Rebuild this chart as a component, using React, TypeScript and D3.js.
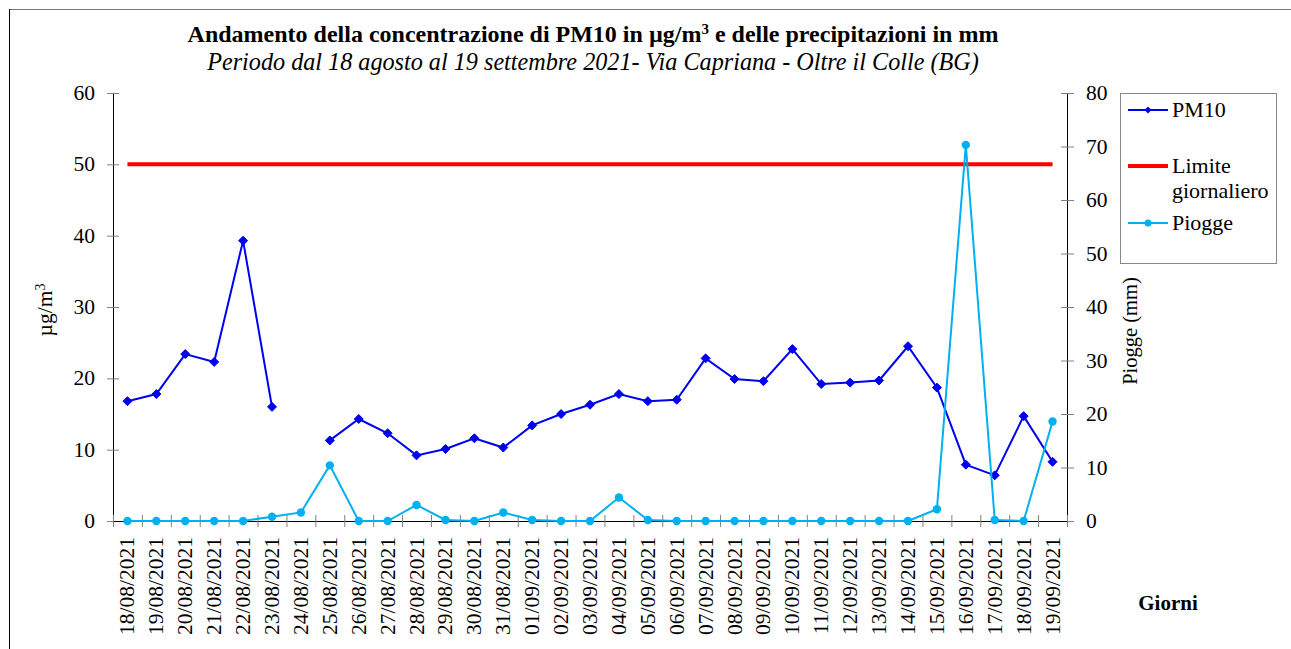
import React from "react";
import * as d3 from "d3";

const categories = [
  "18/08/2021","19/08/2021","20/08/2021","21/08/2021","22/08/2021","23/08/2021","24/08/2021",
  "25/08/2021","26/08/2021","27/08/2021","28/08/2021","29/08/2021","30/08/2021","31/08/2021",
  "01/09/2021","02/09/2021","03/09/2021","04/09/2021","05/09/2021","06/09/2021","07/09/2021",
  "08/09/2021","09/09/2021","10/09/2021","11/09/2021","12/09/2021","13/09/2021","14/09/2021",
  "15/09/2021","16/09/2021","17/09/2021","18/09/2021","19/09/2021",
];

const pm10: (number | null)[] = [
  16.8, 17.8, 23.4, 22.3, 39.3, 16.0, null,
  11.3, 14.3, 12.3, 9.2, 10.1, 11.6, 10.3,
  13.4, 15.0, 16.3, 17.8, 16.8, 17.0, 22.8,
  19.9, 19.6, 24.1, 19.2, 19.4, 19.7, 24.5,
  18.7, 7.9, 6.4, 14.7, 8.3,
];

const piogge: number[] = [
  0, 0, 0, 0, 0, 0.8, 1.6,
  10.4, 0, 0, 3.0, 0.2, 0, 1.6,
  0.2, 0, 0, 4.4, 0.2, 0, 0,
  0, 0, 0, 0, 0, 0, 0,
  2.2, 70.3, 0.2, 0, 18.6,
];

const limite = 50;

const leftTicks = [0, 10, 20, 30, 40, 50, 60];
const rightTicks = [0, 10, 20, 30, 40, 50, 60, 70, 80];

const FONT = "'Liberation Serif', 'Times New Roman', serif";

export default function App() {
  const left = 113, right = 1067, top = 93, bottom = 521;
  const x = d3.scaleBand<string>().domain(categories).range([left, right]);
  const cx = (c: string) => (x(c) as number) + x.bandwidth() / 2;
  const yL = d3.scaleLinear().domain([0, 60]).range([bottom, top]);
  const yR = d3.scaleLinear().domain([0, 80]).range([bottom, top]);

  const pmLine = d3
    .line<number | null>()
    .defined((d) => d !== null)
    .x((_, i) => cx(categories[i]))
    .y((d) => yL(d as number));
  const rainLine = d3
    .line<number>()
    .x((_, i) => cx(categories[i]))
    .y((d) => yR(d));

  const blue = "#0000F0";
  const cyan = "#00B0F0";
  const red = "#FF0000";
  const tickGray = "#808080";

  const diamond = (px: number, py: number, s = 4.5) =>
    `M${px},${py - s}L${px + s},${py}L${px},${py + s}L${px - s},${py}Z`;

  const boundaries = d3.range(categories.length + 1).map((i) => left + i * x.step());

  return (
    <svg
      width={1291}
      height={649}
      style={{ position: "absolute", left: 0, top: 0, background: "#fff", fontFamily: FONT }}
    >
      <rect x={0} y={0} width={1291} height={649} fill="#fff" />
      {/* border */}
      <line x1={9} y1={9.5} x2={1291} y2={9.5} stroke="#777" strokeWidth={1} />
      <line x1={9.5} y1={9} x2={9.5} y2={649} stroke="#000" strokeWidth={1} />

      {/* titles */}
      <text x={593} y={42} textAnchor="middle" fontSize={24} fontWeight="bold">
        Andamento della concentrazione di PM10 in µg/m<tspan fontSize={15} dy={-8}>3</tspan>
        <tspan dy={8}> e delle precipitazioni in mm</tspan>
      </text>
      <text x={593} y={70} textAnchor="middle" fontSize={24.2} fontStyle="italic">
        Periodo dal 18 agosto al 19 settembre 2021- Via Capriana - Oltre il Colle (BG)
      </text>

      {/* left axis */}
      <line x1={left + 0.5} y1={top} x2={left + 0.5} y2={bottom} stroke="#000" />
      {leftTicks.map((t) => (
        <g key={"l" + t}>
          <line x1={left - 6} x2={left + 6} y1={yL(t) + 0.5} y2={yL(t) + 0.5} stroke={tickGray} />
          <text x={95} y={yL(t) + 7} textAnchor="end" fontSize={21.5}>
            {t}
          </text>
        </g>
      ))}
      <text
        transform={`translate(52,${310}) rotate(-90)`}
        textAnchor="middle"
        fontSize={21.5}
      >
        µg/m<tspan fontSize={14} dy={-7}>3</tspan>
      </text>

      {/* right axis */}
      <line x1={right + 0.5} y1={top} x2={right + 0.5} y2={bottom} stroke="#000" />
      {rightTicks.map((t) => (
        <g key={"r" + t}>
          <line x1={right - 6} x2={right + 7} y1={yR(t) + 0.5} y2={yR(t) + 0.5} stroke={tickGray} />
          <text x={1086} y={yR(t) + 7} textAnchor="start" fontSize={21.5}>
            {t}
          </text>
        </g>
      ))}
      <text
        transform={`translate(1137,${331}) rotate(-90)`}
        textAnchor="middle"
        fontSize={20.5}
      >
        Piogge (mm)
      </text>

      {/* x axis */}
      <line x1={left} y1={bottom + 0.5} x2={right} y2={bottom + 0.5} stroke="#000" />
      {boundaries.map((b, i) => (
        <line key={"b" + i} x1={b + 0.5} x2={b + 0.5} y1={bottom - 6} y2={bottom + 6} stroke={tickGray} />
      ))}
      {categories.map((c) => (
        <text
          key={c}
          transform={`translate(${cx(c) + 7},${537}) rotate(-90)`}
          textAnchor="end"
          fontSize={21.5}
        >
          {c}
        </text>
      ))}
      <text x={1168} y={610} textAnchor="middle" fontSize={21} fontWeight="bold">
        Giorni
      </text>

      {/* limit line */}
      <line
        x1={cx(categories[0])}
        x2={cx(categories[categories.length - 1])}
        y1={yL(limite)}
        y2={yL(limite)}
        stroke={red}
        strokeWidth={4}
      />

      {/* PM10 */}
      <path d={pmLine(pm10) || ""} fill="none" stroke={blue} strokeWidth={2} />
      {pm10.map((v, i) =>
        v === null ? null : (
          <path key={"p" + i} d={diamond(cx(categories[i]), yL(v))} fill={blue} stroke={blue} strokeWidth={1} />
        )
      )}

      {/* Piogge */}
      <path d={rainLine(piogge) || ""} fill="none" stroke={cyan} strokeWidth={2} />
      {piogge.map((v, i) => (
        <circle key={"c" + i} cx={cx(categories[i])} cy={yR(v)} r={4.2} fill={cyan} />
      ))}

      {/* legend */}
      <rect x={1120.5} y={93.5} width={156} height={170} fill="#fff" stroke="#888" />
      <line x1={1128} x2={1168} y1={110} y2={110} stroke={blue} strokeWidth={2} />
      <path d={diamond(1148, 110, 3.5)} fill={blue} />
      <text x={1172} y={117} fontSize={22}>PM10</text>
      <line x1={1128} x2={1168} y1={166} y2={166} stroke={red} strokeWidth={4} />
      <text x={1172} y={173} fontSize={22}>Limite</text>
      <text x={1172} y={198} fontSize={22}>giornaliero</text>
      <line x1={1128} x2={1168} y1={223} y2={223} stroke={cyan} strokeWidth={2} />
      <circle cx={1148} cy={223} r={3.5} fill={cyan} />
      <text x={1172} y={230} fontSize={22}>Piogge</text>
    </svg>
  );
}
